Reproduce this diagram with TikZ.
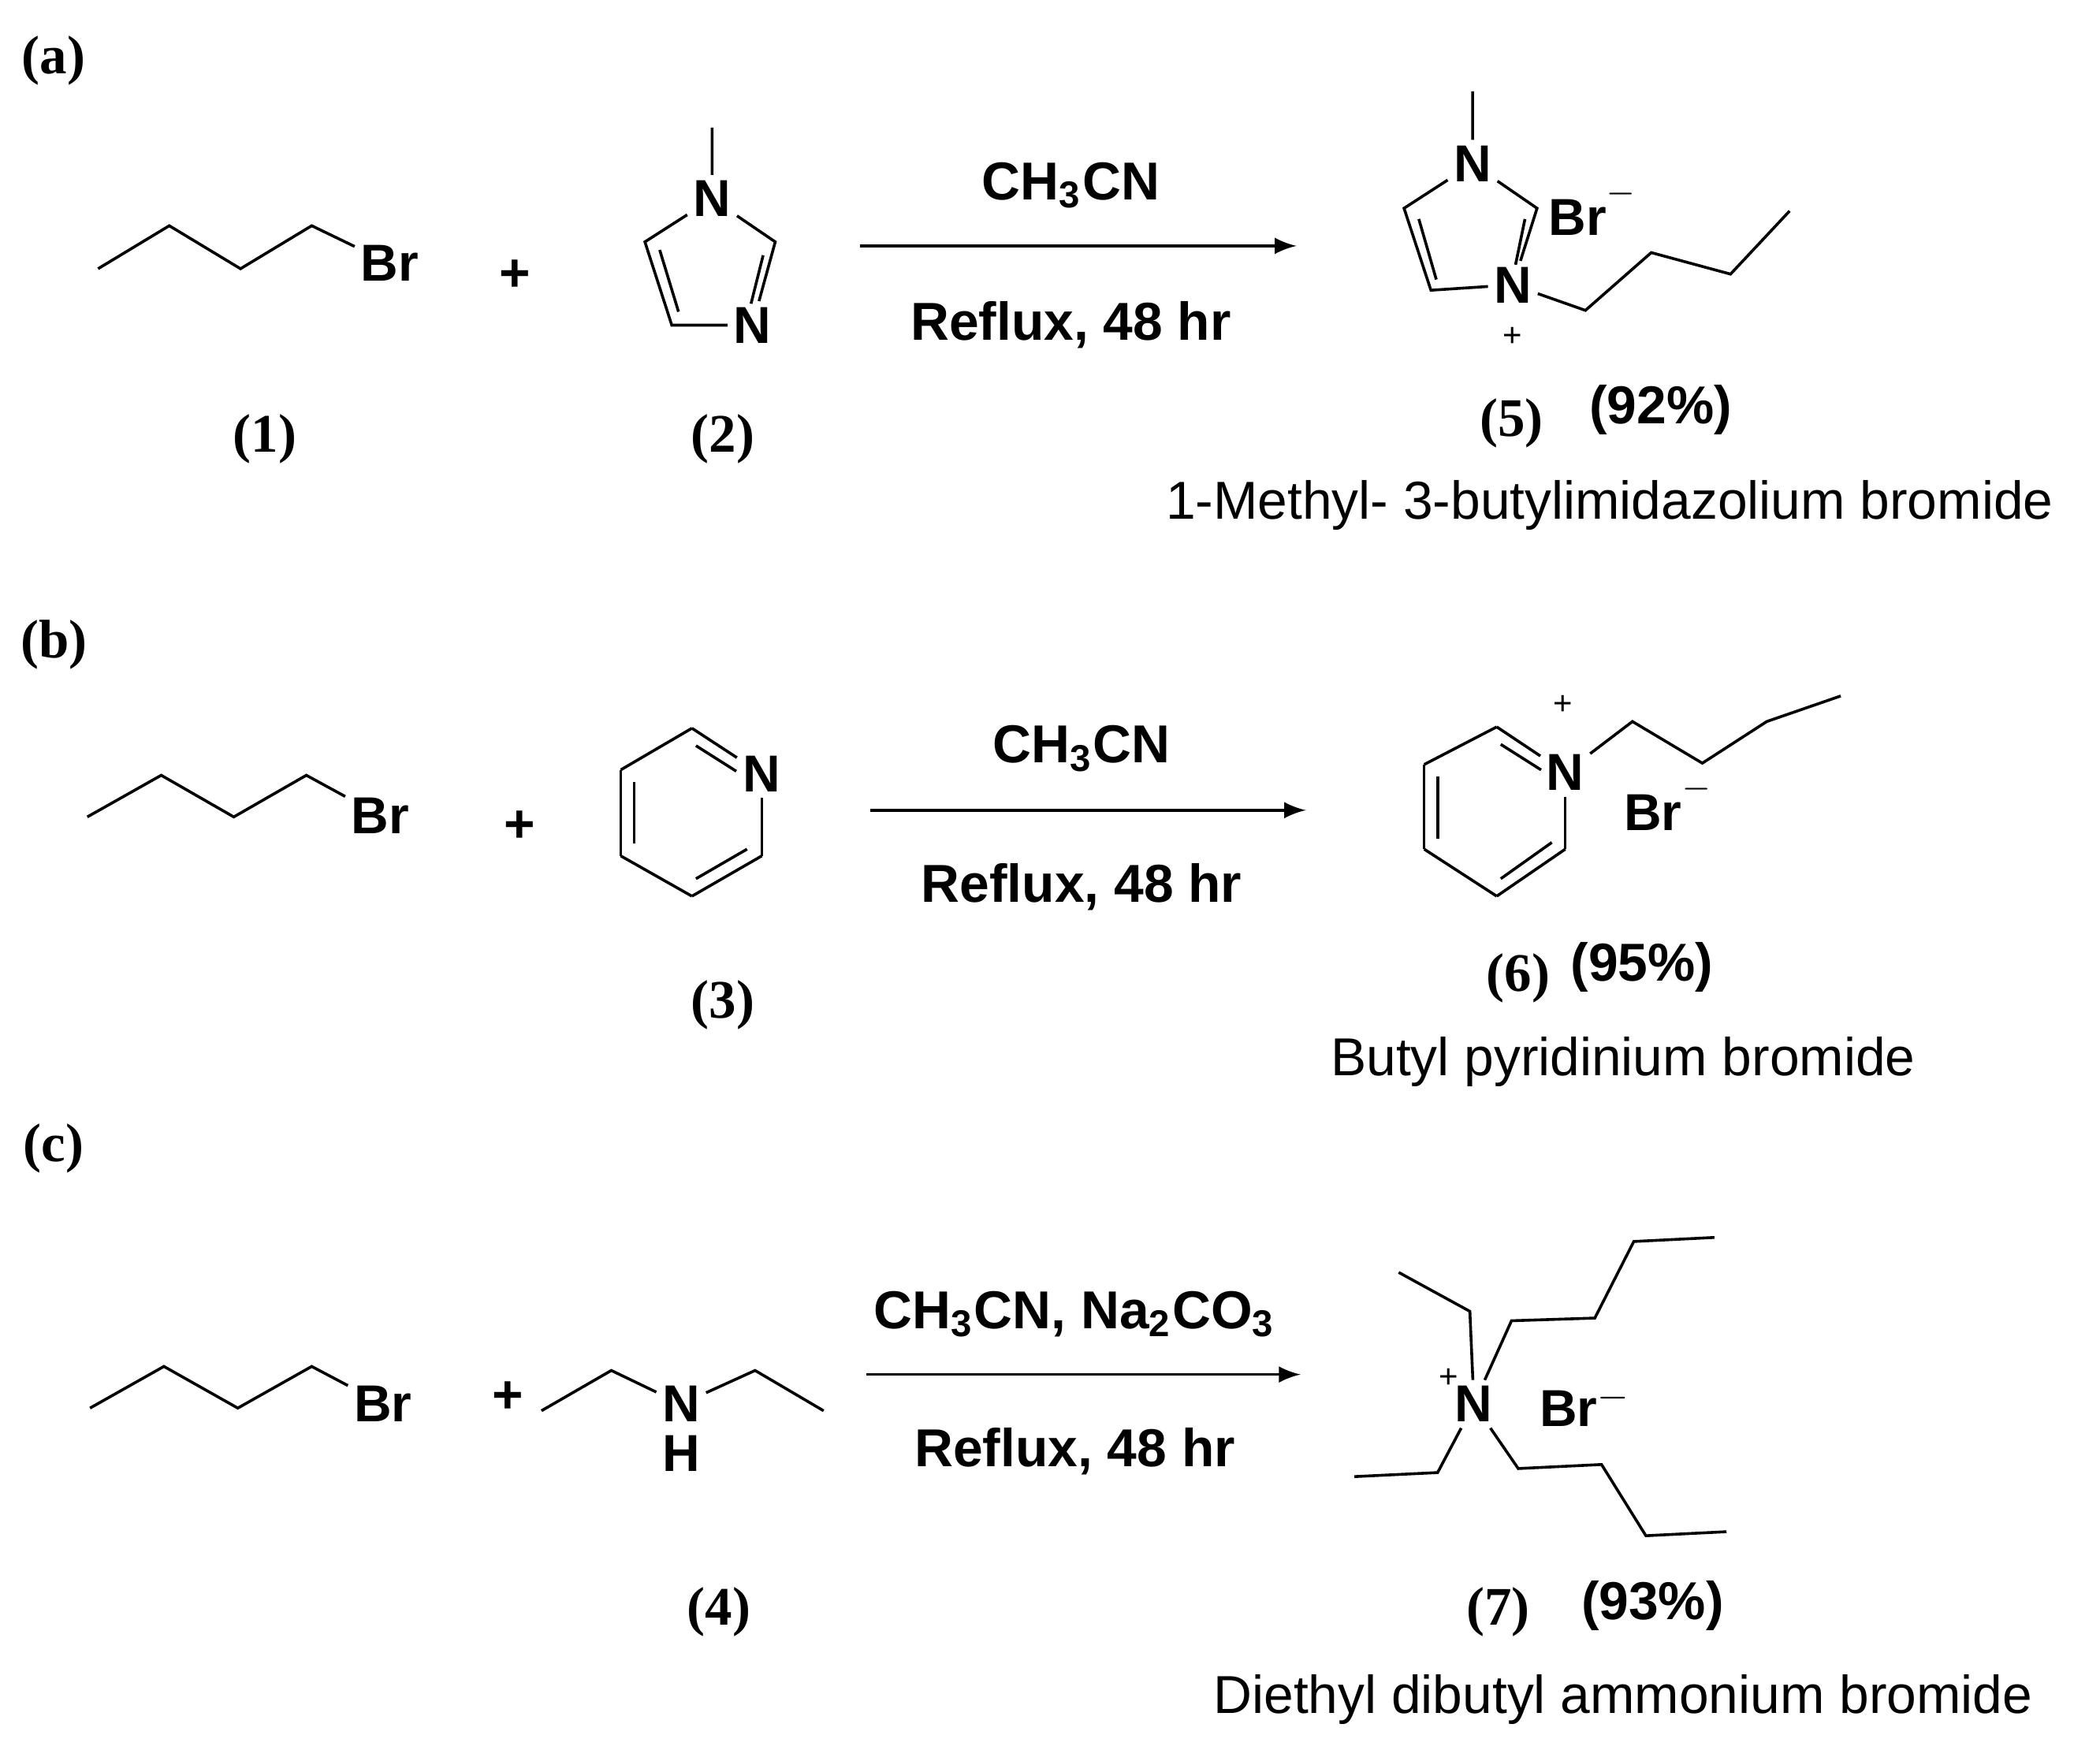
\documentclass[tikz,border=0pt]{standalone}
\usepackage{fontspec}
\setmainfont{Liberation Sans}
\newfontfamily\serifb{Liberation Serif}
\begin{document}
\begin{tikzpicture}[x=0.01cm,y=-0.01cm,line width=0.6pt,
 lab/.style={font=\serifb\bfseries\fontsize{11.5}{13}\selectfont},
 atom/.style={font=\bfseries\fontsize{11}{13}\selectfont,inner sep=1pt},
 cond/.style={font=\bfseries\fontsize{11.3}{13}\selectfont},
 nm/.style={font=\fontsize{11.3}{13}\selectfont},
 chg/.style={font=\fontsize{7}{8}\selectfont,inner sep=0pt},
 rxn/.style={-latex}]
\useasboundingbox (0,0) rectangle (1563,1302);
% ---------- (a)
\node[lab] (la) at (40,45) {(a)};
\coordinate (a1) at (73,200);\coordinate (a2) at (126,168);\coordinate (a3) at (179,200);
\coordinate (a4) at (232,168);
\node[atom] (abr) at (290,196) {Br};
\draw (a1)--(a2)--(a3)--(a4)--(abr);
\node[cond] (ap) at (383,205) {+};
% methylimidazole
\node[atom] (in1) at (530,148) {N};
\coordinate (ime) at (530,95);
\coordinate (ic2) at (577,180);
\node[atom] (in3) at (560,242) {N};
\coordinate (ic4) at (500,242);
\coordinate (ic5) at (480,180);
\draw (ime)--(in1)--(ic2)--(in3)--(ic4)--(ic5)--(in1);
\draw (568,190)--(559,226);
\draw (491,186)--(505,232);
\coordinate (aA) at (640,183);\coordinate (aB) at (965,183);
\draw[rxn] (aA)--(aB);
\node[cond] (ac1) at (797,138) {CH\textsubscript{3}CN};
\node[cond] (ac2) at (797,242) {Reflux, 48 hr};
% product 5
\node[atom] (pn1) at (1096,122) {N};
\coordinate (pme) at (1096,68);
\coordinate (pc2) at (1144,155);
\node[atom] (pn3) at (1126,212) {N};
\coordinate (pc4) at (1065,216);
\coordinate (pc5) at (1045,155);
\draw (pme)--(pn1)--(pc2)--(pn3)--(pc4)--(pc5)--(pn1);
\draw (1135,163)--(1128,197);
\draw (1056,163)--(1069,208);
\node[chg] (pplus) at (1126,251) {+};
\coordinate (pb1) at (1180,231);\coordinate (pb2) at (1229,188);
\coordinate (pb3) at (1288,204);\coordinate (pb4) at (1332,157);
\draw (pn3)--(pb1)--(pb2)--(pb3)--(pb4);
\node[atom] (pbr) at (1186,155) {Br$^{\raisebox{3pt}{\scriptsize$-$}}$};
\node[lab] (l1) at (197,327) {(1)};
\node[lab] (l2) at (538,327) {(2)};
\node[lab] (l5) at (1125,315) {(5)};
\node[cond] (y5) at (1236,305) {(92\%)};
\node[nm] (n5) at (1198,376) {1-Methyl- 3-butylimidazolium bromide};
% ---------- (b)
\node[lab] (lb) at (40,480) {(b)};
\coordinate (b1) at (65,608);\coordinate (b2) at (120,577);\coordinate (b3) at (174,608);
\coordinate (b4) at (228,577);
\node[atom] (bbr) at (283,607) {Br};
\draw (b1)--(b2)--(b3)--(b4)--(bbr);
\node[cond] (bp) at (387,615) {+};
% pyridine
\coordinate (yt) at (515,542);\node[atom] (yn) at (567,576) {N};
\coordinate (ylr) at (567,637);\coordinate (yb) at (515,667);
\coordinate (yll) at (462,637);\coordinate (yul) at (462,573);
\draw (yt)--(yn);\draw (yn)--(ylr);\draw (ylr)--(yb);\draw (yb)--(yll);
\draw (yll)--(yul);\draw (yul)--(yt);
\draw (518,555)--(548,574);
\draw (472,582)--(472,628);
\draw (518,654)--(556,632);
\coordinate (bA) at (648,603);\coordinate (bB) at (972,603);
\draw[rxn] (bA)--(bB);
\node[cond] (bc1) at (805,557) {CH\textsubscript{3}CN};
\node[cond] (bc2) at (805,660) {Reflux, 48 hr};
% product 6
\coordinate (qt) at (1114,541);\node[atom] (qn) at (1165,575) {N};
\coordinate (qlr) at (1165,632);\coordinate (qb) at (1114,667);
\coordinate (qll) at (1060,632);\coordinate (qul) at (1060,569);
\draw (qt)--(qn);\draw (qn)--(qlr);\draw (qlr)--(qb);\draw (qb)--(qll);
\draw (qll)--(qul);\draw (qul)--(qt);
\draw (1117,554)--(1147,573);
\draw (1070,578)--(1070,624);
\draw (1117,654)--(1155,627);
\node[chg] (qplus) at (1163,525) {+};
\coordinate (qb1) at (1215,537);\coordinate (qb2) at (1267,568);
\coordinate (qb3) at (1315,537);\coordinate (qb4) at (1370,518);
\draw (qn)--(qb1)--(qb2)--(qb3)--(qb4);
\node[atom] (qbr) at (1242,598) {Br$^{\raisebox{3pt}{\scriptsize$-$}}$};
\node[lab] (l3) at (538,748) {(3)};
\node[lab] (l6) at (1130,728) {(6)};
\node[cond] (y6) at (1222,720) {(95\%)};
\node[nm] (n6) at (1208,790) {Butyl pyridinium bromide};
% ---------- (c)
\node[lab] (lc) at (40,855) {(c)};
\coordinate (c1) at (67,1048);\coordinate (c2) at (122,1017);\coordinate (c3) at (177,1048);
\coordinate (c4) at (232,1017);
\node[atom] (cbr) at (285,1045) {Br};
\draw (c1)--(c2)--(c3)--(c4)--(cbr);
\node[cond] (cp) at (378,1040) {+};
\coordinate (d1) at (403,1050);\coordinate (d2) at (455,1020);
\node[atom] (dn) at (507,1045) {N};
\node[atom] (dh) at (507,1082) {H};
\coordinate (d3) at (562,1020);\coordinate (d4) at (613,1050);
\draw (d1)--(d2)--(dn)--(d3)--(d4);
\coordinate (cA) at (645,1023);\coordinate (cB) at (968,1023);
\draw[rxn] (cA)--(cB);
\node[cond] (cc1) at (800,978) {CH\textsubscript{3}CN, Na\textsubscript{2}CO\textsubscript{3}};
\node[cond] (cc2) at (800,1080) {Reflux, 48 hr};
% product 7
\node[atom] (rn) at (1097,1045) {N};
\node[chg] (rplus) at (1078,1026) {+};
\coordinate (e1) at (1094,976);\coordinate (e2) at (1041,947);
\draw (rn)--(e1)--(e2);
\coordinate (f1) at (1125,983);\coordinate (f2) at (1187,981);
\coordinate (f3) at (1216,924);\coordinate (f4) at (1276,921);
\draw (rn)--(f1)--(f2)--(f3)--(f4);
\coordinate (g1) at (1070,1096);\coordinate (g2) at (1008,1099);
\draw (rn)--(g1)--(g2);
\coordinate (h1) at (1130,1093);\coordinate (h2) at (1192,1090);
\coordinate (h3) at (1225,1143);\coordinate (h4) at (1285,1140);
\draw (rn)--(h1)--(h2)--(h3)--(h4);
\node[atom] (rbr) at (1180,1046) {Br$^{-}$};
\node[lab] (l4) at (535,1200) {(4)};
\node[lab] (l7) at (1115,1200) {(7)};
\node[cond] (y7) at (1230,1195) {(93\%)};
\node[nm] (n7) at (1208,1265) {Diethyl dibutyl ammonium bromide};
\end{tikzpicture}
\end{document}
